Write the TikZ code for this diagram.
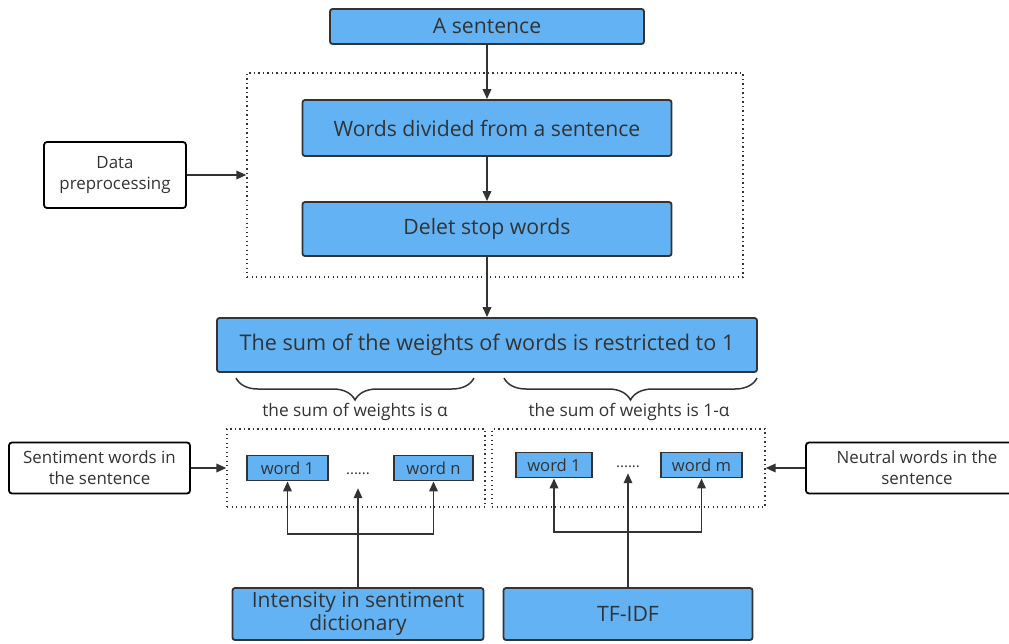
\documentclass[tikz,border=0pt]{standalone}
\usepackage{fontspec}
\setmainfont{Open Sans}
\usepackage{tikz}
\usetikzlibrary{arrows.meta, positioning, decorations.pathreplacing}
\usepackage{xcolor}
\definecolor{boxblue}{HTML}{63B3F4}
\definecolor{inkgray}{HTML}{333333}

\begin{document}
\begin{tikzpicture}[
    x=1pt, y=-1pt,
    bluebox/.style={rectangle, draw=inkgray, line width=1.8pt, rounded corners=2.5pt, fill=boxblue, text=inkgray, inner sep=0pt, align=center, font=\fontsize{21.2}{23.5}\selectfont},
    notebox/.style={rectangle, draw=black, line width=1.8pt, rounded corners=3pt, fill=white, text=inkgray, inner sep=0pt, align=center, font=\fontsize{16.9}{21}\selectfont},
    wordbox/.style={rectangle, draw=inkgray, line width=1.8pt, fill=boxblue, text=inkgray, inner sep=0pt, minimum height=25pt, font=\fontsize{16.6}{18}\selectfont},
    groupbox/.style={rectangle, draw=inkgray, line width=1.3pt, dash pattern=on 1.3pt off 3.2pt, inner sep=0pt},
    dotsnode/.style={inner sep=0pt, minimum width=40pt, text=inkgray, font=\fontsize{15}{18}\selectfont},
    arr/.style={draw=inkgray, line width=1.8pt, -{Triangle[length=10pt, width=8.5pt]}},
    brace/.style={draw=inkgray, line width=1.5pt, decorate, decoration={brace, mirror, amplitude=22pt, aspect=0.5}},
    note/.style={text=inkgray, font=\fontsize{17.3}{19}\selectfont}
]
    \useasboundingbox (0,0) rectangle (1009,643);

    % Pipeline at the top
    \node[bluebox, minimum width=314pt, minimum height=35pt] (sentence) at (487,26.5) {A sentence};
    \node[groupbox, minimum width=496pt, minimum height=204pt] (prepbox) at (495,175) {};
    \node[bluebox, minimum width=369pt, minimum height=56pt] (divided) at (487,128) {Words divided from a sentence};
    \node[bluebox, minimum width=369pt, minimum height=54pt] (stopw) at (487,229) {Delet stop words};
    \node[notebox, minimum width=142pt, minimum height=66pt] (prep) at (115,175) {Data\\preprocessing};

    \draw[arr] (sentence) -- (divided);
    \draw[arr] (divided) -- (stopw);
    \draw[arr] (prep) -- (prepbox);

    % Weight restriction
    \node[bluebox, minimum width=540pt, minimum height=54pt, font=\fontsize{21.6}{24}\selectfont] (sumw) at (487,345) {The sum of the weights of words is restricted to 1};
    \draw[arr] (stopw) -- (sumw);

    % Braces under the weight box
    \draw[brace] (236,378) -- (474,378);
    \node[note] (alpha) at (355,412) {the sum of weights is α};
    \draw[brace] (504,378) -- (757,378);
    \node[note] (beta) at (629,412) {the sum of weights is 1-α};

    % Sentiment words group
    \node[groupbox, minimum width=258pt, minimum height=78pt] (groupa) at (356,468) {};
    \node[wordbox, minimum width=81pt] (wa1) at (287.5,468) {word 1};
    \node[wordbox, minimum width=79pt] (wan) at (433.5,468) {word n};
    \node[dotsnode, minimum height=28pt] (dota) at (358,474) {......};
    \node[notebox, minimum width=181pt, minimum height=51pt] (senti) at (99.5,468) {Sentiment words in\\the sentence};
    \draw[arr] (senti) -- (groupa);

    % Neutral words group
    \node[groupbox, minimum width=273pt, minimum height=78pt] (groupb) at (628.5,468) {};
    \node[wordbox, minimum width=76pt] (wb1) at (554,465) {word 1};
    \node[wordbox, minimum width=81pt] (wbm) at (701.5,465) {word m};
    \node[dotsnode, minimum height=12pt] (dotb) at (628,467) {......};
    \node[notebox, minimum width=222pt, minimum height=51pt] (neutral) at (917,468) {Neutral words in the\\sentence};
    \draw[arr] (neutral) -- (groupb);

    % Weight sources
    \node[bluebox, minimum width=251pt, minimum height=52pt, font=\fontsize{21}{23}\selectfont] (intens) at (358,614) {Intensity in sentiment\\dictionary};
    \node[bluebox, minimum width=249pt, minimum height=52pt] (tfidf) at (628,614) {TF-IDF};

    \coordinate (ja) at (358,534);
    \coordinate (jb) at (628,532);
    \draw[arr] (intens) -- (dota);
    \draw[arr] (ja) -| (wa1);
    \draw[arr] (ja) -| (wan);
    \draw[arr] (tfidf) -- (dotb);
    \draw[arr] (jb) -| (wb1);
    \draw[arr] (jb) -| (wbm);

\end{tikzpicture}
\end{document}
